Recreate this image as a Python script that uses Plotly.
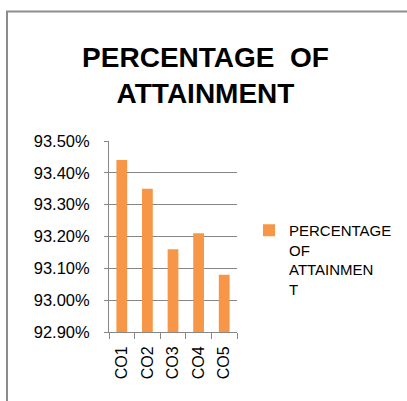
import plotly.graph_objects as go

categories = ["CO1", "CO2", "CO3", "CO4", "CO5"]
values = [93.44, 93.35, 93.16, 93.21, 93.08]
series_name = "PERCENTAGE<br>OF<br>ATTAINMEN<br>T"
title_text = "PERCENTAGE\u00a0\u00a0OF<br>ATTAINMENT"
y_ticks = [92.9, 93.0, 93.1, 93.2, 93.3, 93.4, 93.5]
y_tick_labels = ["92.90%", "93.00%", "93.10%", "93.20%", "93.30%", "93.40%", "93.50%"]

W, H = 407, 401
L, R, T, B = 109, 170, 141, 69
pw, ph = W - L - R, H - T - B

def px_x(p):
    return (p - L) / pw

def px_y(p):
    return (H - B - p) / ph

fig = go.Figure()
fig.add_trace(go.Bar(
    x=categories, y=values, name=series_name,
    marker=dict(color="#F79646", line=dict(width=0)),
    showlegend=True,
))

grey = "#868686"
fig.update_layout(
    width=W, height=H,
    margin=dict(l=L, r=R, t=T, b=B, pad=0, autoexpand=False),
    paper_bgcolor="white", plot_bgcolor="white",
    font=dict(family="Liberation Sans, Arial, sans-serif", size=16, color="black"),
    bargap=0.58,
    title=dict(text=title_text, x=0.505, xanchor="center", y=1 - 67 / H, yanchor="middle",
               yref="container", xref="container",
               font=dict(size=28, family="Liberation Sans, Arial, sans-serif", color="black", weight="bold")),
    showlegend=True,
    legend=dict(x=px_x(249), xanchor="left", y=px_y(214), yanchor="top", valign="top",
                bgcolor="rgba(0,0,0,0)", font=dict(size=15), itemwidth=30,
                tracegroupgap=0),
    xaxis=dict(showline=True, linecolor=grey, linewidth=1, ticks="outside", ticklen=6,
               tickcolor=grey, tickson="boundaries", tickangle=-90, showgrid=False,
               tickfont=dict(size=16), ticklabelstandoff=7),
    yaxis=dict(range=[92.9, 93.5], tickvals=y_ticks, ticktext=y_tick_labels,
               showline=True, linecolor=grey, linewidth=1, ticks="outside", ticklen=4,
               tickcolor=grey, showgrid=True, gridcolor=grey, gridwidth=1, zeroline=False,
               tickfont=dict(size=16.5), ticklabelstandoff=11),
    shapes=[
        dict(type="line", xref="paper", yref="paper", x0=px_x(7), x1=px_x(7),
             y0=px_y(11), y1=px_y(H + 5), line=dict(color="#8c8c8c", width=2)),
        dict(type="line", xref="paper", yref="paper", x0=px_x(6), x1=px_x(W + 5),
             y0=px_y(11.5), y1=px_y(11.5), line=dict(color="#8c8c8c", width=2)),
    ],
)

fig.write_html("out.html", config={"displayModeBar": False},
               post_script="document.body.style.margin='0';document.body.style.overflow='hidden';")
